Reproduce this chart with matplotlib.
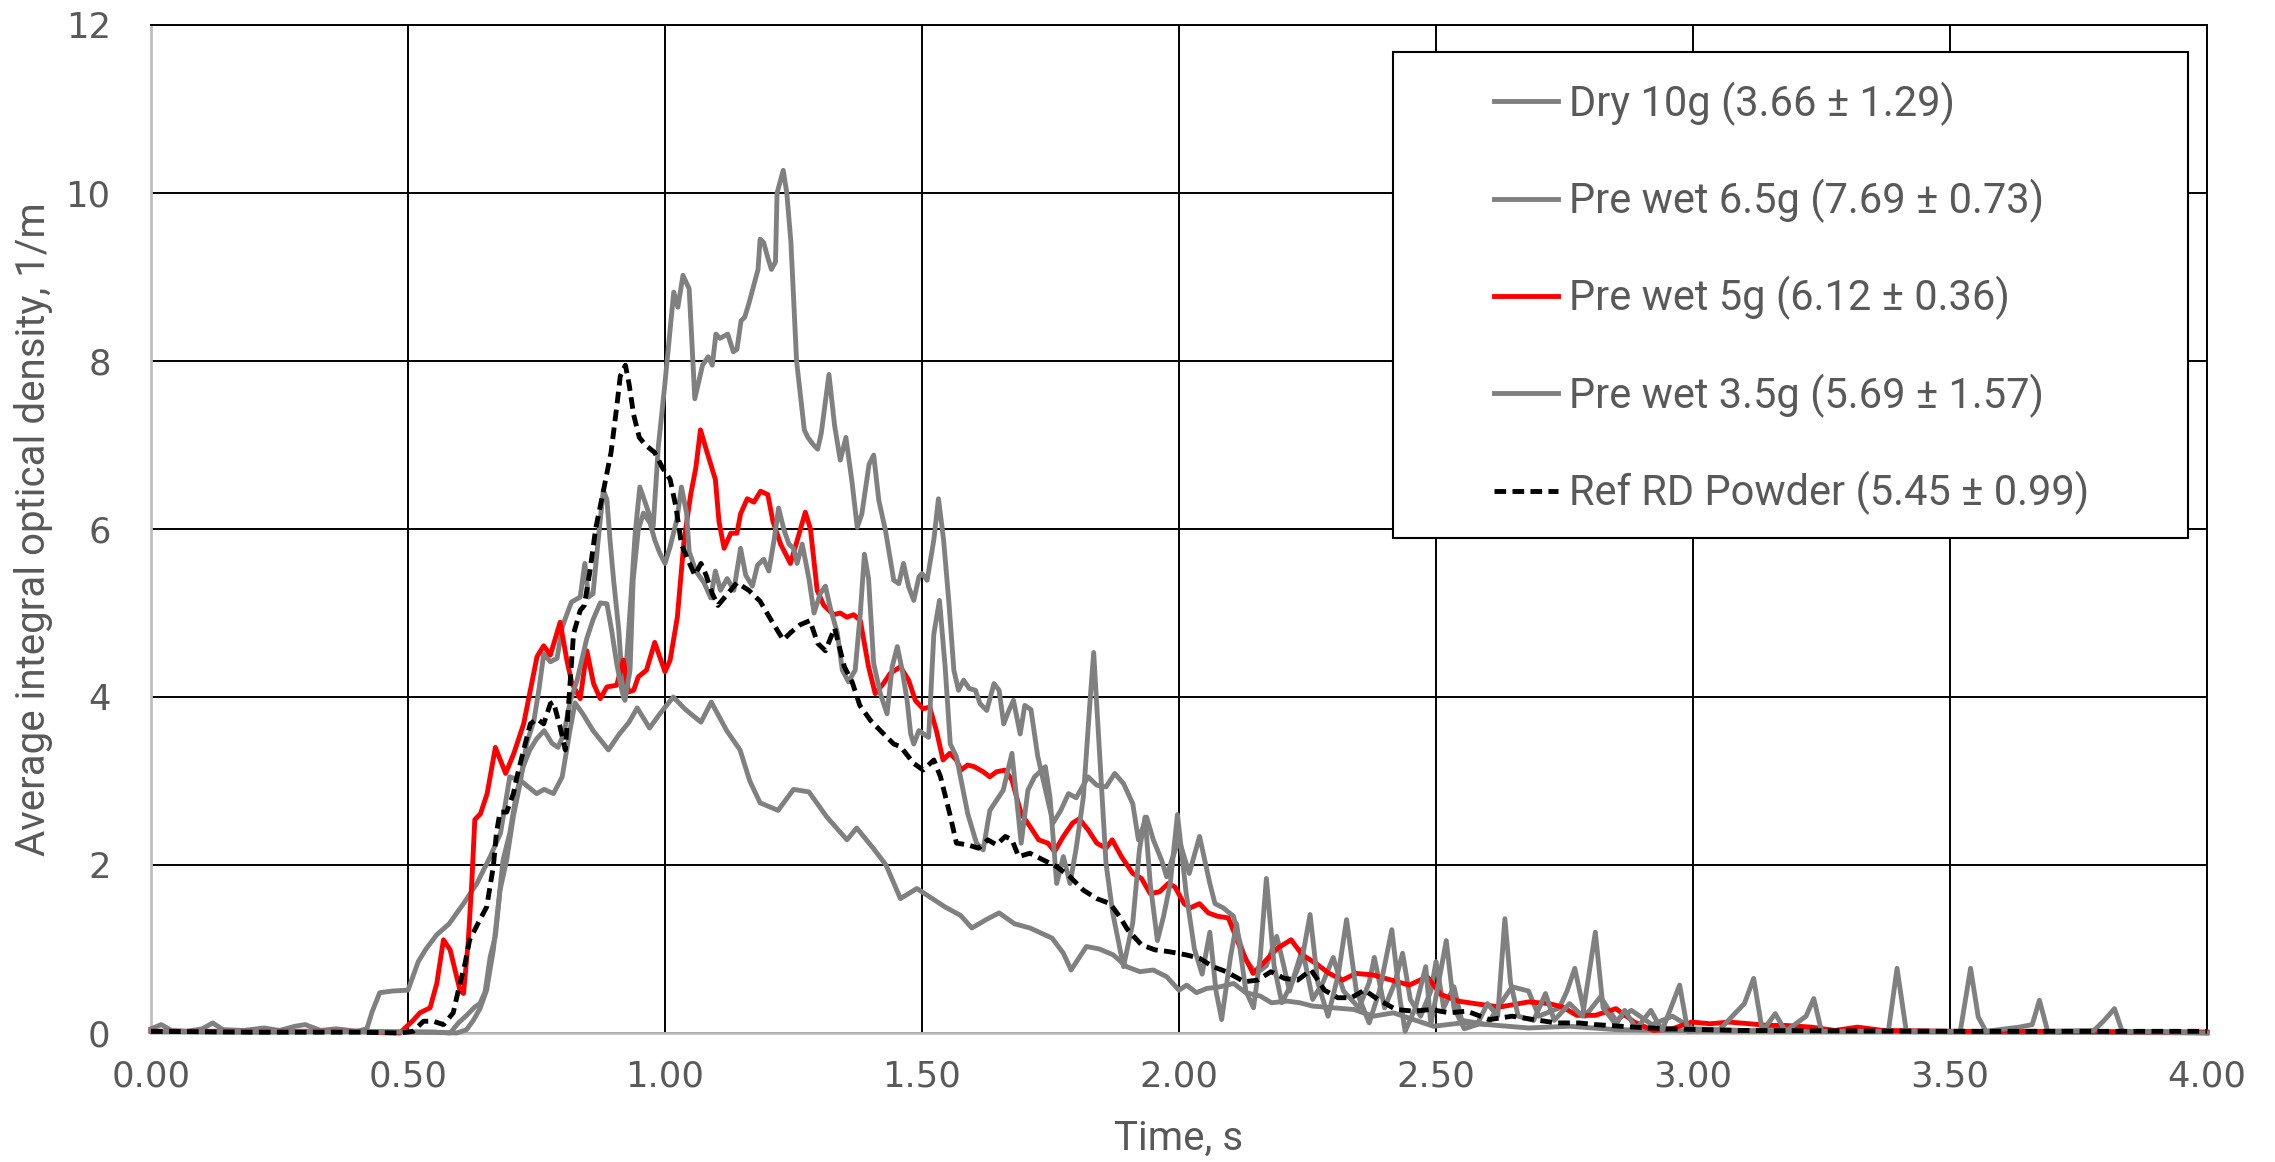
import matplotlib
matplotlib.use("Agg")
import matplotlib.pyplot as plt
from matplotlib.patches import Rectangle

# ---------------- data ----------------
t_dry = [0.00,0.02,0.04,0.07,0.10,0.12,0.14,0.18,0.22,0.25,0.28,0.30,0.33,0.36,0.40,0.42,0.43,0.445,0.47,0.50,
         0.52,0.535,0.556,0.58,0.608,0.634,0.66,0.68,0.698,0.72,0.75,0.765,0.783,0.80,0.815,0.825,0.84,0.86,0.89,0.91,
         0.93,0.946,0.97,0.99,1.016,1.04,1.07,1.09,1.12,1.146,1.165,1.185,1.22,1.25,1.28,1.315,1.354,1.373,1.405,1.43,
         1.458,1.49,1.52,1.545,1.575,1.597,1.625,1.65,1.68,1.71,1.735,1.753,1.775,1.79,1.82,1.845,1.872,1.898,1.924,1.95,
         1.976,2.0,2.015,2.034,2.054,2.08,2.106,2.13,2.158,2.18,2.21,2.235,2.26,2.3,2.34,2.378,2.417,2.456,2.495,2.55,
         2.6,2.68,2.76,2.85,2.95,3.1,3.3,3.6,4.0]
v_dry = [0.05,0.10,0.03,0.02,0.05,0.12,0.04,0.03,0.06,0.03,0.08,0.10,0.03,0.05,0.02,0.05,0.25,0.48,0.50,0.51,
         0.85,1.00,1.17,1.30,1.54,1.78,2.10,2.38,3.05,3.00,2.85,2.90,2.85,3.05,3.60,3.93,3.80,3.60,3.37,3.55,
         3.70,3.87,3.63,3.80,4.00,3.85,3.70,3.94,3.60,3.37,3.00,2.74,2.65,2.90,2.87,2.57,2.30,2.44,2.20,2.00,
         1.60,1.72,1.60,1.50,1.40,1.25,1.35,1.43,1.30,1.25,1.18,1.13,0.95,0.75,1.03,1.00,0.93,0.79,0.73,0.75,
         0.67,0.51,0.57,0.48,0.53,0.55,0.59,0.48,0.44,0.36,0.38,0.36,0.32,0.30,0.28,0.20,0.24,0.16,0.08,0.12,
         0.10,0.06,0.08,0.04,0.03,0.02,0.02,0.01,0.01]

t_w65 = [0.00,0.20,0.40,0.55,0.582,0.598,0.614,0.63,0.64,0.65,0.66,0.67,0.679,0.692,0.705,0.718,0.731,0.745,0.755,0.764,
         0.777,0.79,0.80,0.81,0.818,0.835,0.844,0.851,0.86,0.87,0.88,0.887,0.893,0.90,0.91,0.919,0.925,0.935,0.942,0.951,
         0.964,0.977,0.987,0.999,1.017,1.025,1.035,1.047,1.058,1.073,1.084,1.092,1.099,1.107,1.122,1.133,1.14,1.148,1.155,1.163,
         1.174,1.181,1.185,1.192,1.20,1.207,1.215,1.218,1.23,1.237,1.245,1.256,1.271,1.278,1.289,1.297,1.304,1.319,1.33,1.341,
         1.352,1.364,1.374,1.383,1.397,1.406,1.416,1.429,1.445,1.455,1.464,1.474,1.484,1.494,1.50,1.51,1.523,1.532,1.542,1.552,
         1.562,1.571,1.581,1.592,1.604,1.613,1.626,1.64,1.65,1.659,1.669,1.678,1.691,1.70,1.712,1.725,1.74,1.755,1.77,1.785,
         1.80,1.823,1.84,1.858,1.875,1.892,1.91,1.921,1.937,1.95,1.966,1.976,1.986,2.00,2.02,2.04,2.06,2.07,2.086,2.106,
         2.119,2.13,2.15,2.17,2.19,2.20,2.215,2.23,2.24,2.26,2.28,2.30,2.32,2.35,2.37,2.38,2.40,2.42,2.435,2.45,
         2.47,2.49,2.50,2.515,2.535,2.55,2.60,2.62,2.648,2.68,2.70,2.74,2.755,2.77,2.79,2.82,2.85,2.88,2.92,2.96,
         3.00,3.10,3.50,4.00]
v_w65 = [0.02,0.01,0.02,0.01,0.00,0.12,0.21,0.31,0.35,0.49,0.91,1.15,1.70,2.06,2.58,2.97,3.45,3.72,4.10,4.51,
         4.42,4.46,4.83,5.00,5.13,5.19,5.59,5.19,5.23,5.87,6.46,6.35,5.87,5.39,4.80,4.00,4.40,5.30,5.95,6.50,
         6.27,6.03,6.98,7.68,8.82,8.64,9.02,8.86,7.55,7.95,8.05,7.95,8.32,8.27,8.32,8.11,8.14,8.48,8.52,8.68,
         8.93,9.09,9.45,9.41,9.23,9.09,9.18,10.00,10.27,10.00,9.41,8.00,7.18,7.09,7.00,6.95,7.14,7.84,7.23,6.82,
         7.09,6.55,6.02,6.18,6.77,6.88,6.34,5.98,5.39,5.35,5.59,5.31,5.15,5.43,5.47,5.39,5.87,6.36,5.87,5.15,
         4.32,4.08,4.20,4.10,4.08,3.92,3.84,4.16,4.08,3.68,3.84,3.96,3.56,3.90,3.85,3.30,2.90,2.50,2.65,2.85,
         2.80,3.05,2.95,2.93,3.09,2.97,2.73,2.30,2.57,2.30,2.06,1.86,2.06,2.30,1.90,2.34,1.78,1.54,1.49,1.39,
         1.07,0.87,0.71,0.80,1.15,0.90,0.50,0.80,1.00,0.40,0.60,0.90,0.50,0.30,0.60,0.90,0.30,0.60,0.95,0.40,
         0.20,0.50,0.85,0.30,0.55,0.15,0.10,0.30,0.55,0.50,0.20,0.30,0.50,0.77,0.20,0.43,0.15,0.27,0.10,0.20,
         0.05,0.03,0.02,0.00]

t_w5 = [0.00,0.20,0.40,0.484,0.51,0.523,0.543,0.556,0.569,0.582,0.601,0.608,0.617,0.624,0.63,0.641,0.654,0.67,0.69,0.706,
        0.725,0.738,0.751,0.764,0.777,0.796,0.809,0.819,0.835,0.848,0.861,0.874,0.887,0.906,0.919,0.929,0.939,0.948,0.964,0.98,
        1.00,1.01,1.024,1.037,1.05,1.06,1.069,1.082,1.098,1.105,1.115,1.128,1.14,1.147,1.16,1.173,1.186,1.20,1.21,1.225,
        1.244,1.257,1.273,1.283,1.296,1.309,1.328,1.341,1.354,1.367,1.38,1.396,1.409,1.425,1.438,1.458,1.474,1.487,1.502,1.515,
        1.528,1.541,1.554,1.567,1.576,1.589,1.602,1.619,1.632,1.645,1.662,1.675,1.693,1.71,1.727,1.745,1.758,1.775,1.793,1.806,
        1.823,1.84,1.858,1.87,1.888,1.91,1.927,1.944,1.962,1.979,1.992,2.01,2.022,2.04,2.057,2.075,2.096,2.118,2.144,2.17,
        2.192,2.218,2.24,2.266,2.292,2.318,2.344,2.378,2.413,2.448,2.483,2.509,2.543,2.587,2.625,2.68,2.72,2.746,2.774,2.81,
        2.85,2.886,2.923,2.96,2.997,3.034,3.07,3.11,3.146,3.18,3.23,3.276,3.32,3.37,3.50,3.70,4.00]
v_w5 = [0.02,0.02,0.02,0.00,0.15,0.24,0.30,0.59,1.11,0.99,0.51,0.47,1.07,1.78,2.54,2.61,2.85,3.40,3.09,3.33,
        3.68,4.08,4.48,4.61,4.50,4.89,4.44,4.16,3.98,4.55,4.16,3.98,4.12,4.14,4.44,4.06,4.08,4.24,4.32,4.65,
        4.30,4.44,4.95,5.86,6.41,6.73,7.18,6.91,6.59,6.09,5.77,5.95,5.95,6.18,6.36,6.32,6.45,6.41,6.09,5.82,
        5.59,5.86,6.20,6.00,5.27,5.09,4.98,5.00,4.95,4.98,4.91,4.36,4.04,4.16,4.28,4.36,4.20,3.96,3.86,3.88,
        3.60,3.25,3.33,3.25,3.13,3.19,3.17,3.11,3.05,3.11,3.13,3.01,2.61,2.46,2.30,2.26,2.16,2.34,2.50,2.55,
        2.42,2.26,2.20,2.30,2.10,1.90,1.84,1.66,1.68,1.78,1.74,1.54,1.49,1.54,1.43,1.39,1.37,1.03,0.71,0.87,
        1.01,1.11,0.93,0.83,0.71,0.63,0.71,0.69,0.63,0.57,0.67,0.46,0.38,0.34,0.31,0.37,0.35,0.31,0.21,0.21,
        0.29,0.13,0.03,0.05,0.13,0.11,0.13,0.11,0.09,0.09,0.07,0.03,0.07,0.03,0.02,0.02,0.01]

t_w35 = [0.00,0.30,0.55,0.595,0.614,0.627,0.64,0.653,0.666,0.676,0.685,0.698,0.711,0.724,0.737,0.75,0.765,0.78,0.792,0.803,
         0.816,0.829,0.835,0.848,0.86,0.874,0.887,0.896,0.906,0.916,0.922,0.932,0.938,0.948,0.958,0.971,0.98,0.99,1.00,1.01,
         1.023,1.032,1.042,1.047,1.06,1.076,1.089,1.098,1.108,1.121,1.134,1.147,1.157,1.17,1.18,1.192,1.202,1.212,1.221,1.231,
         1.241,1.25,1.257,1.267,1.28,1.29,1.302,1.312,1.322,1.335,1.345,1.357,1.37,1.38,1.388,1.396,1.406,1.419,1.432,1.442,
         1.452,1.462,1.471,1.478,1.484,1.494,1.503,1.513,1.523,1.534,1.545,1.555,1.567,1.589,1.606,1.619,1.632,1.645,1.658,1.675,
         1.693,1.706,1.719,1.74,1.749,1.762,1.775,1.788,1.80,1.814,1.827,1.834,1.845,1.858,1.871,1.892,1.91,1.923,1.934,1.944,
         1.958,1.97,1.983,1.997,2.014,2.03,2.045,2.06,2.072,2.083,2.10,2.112,2.13,2.145,2.158,2.17,2.185,2.20,2.22,2.24,
         2.255,2.27,2.29,2.31,2.326,2.345,2.37,2.39,2.414,2.43,2.44,2.46,2.48,2.49,2.505,2.52,2.535,2.555,2.58,2.60,
         2.62,2.634,2.645,2.66,2.69,2.713,2.73,2.76,2.785,2.81,2.825,2.85,2.867,2.89,2.918,2.94,2.974,2.99,3.05,3.10,
         3.118,3.135,3.16,3.18,3.22,3.235,3.25,3.38,3.397,3.415,3.52,3.54,3.555,3.57,3.635,3.66,3.674,3.69,3.78,3.80,
         3.82,3.835,4.00]
v_w35 = [0.02,0.02,0.01,0.00,0.04,0.15,0.29,0.51,0.99,1.54,2.06,2.38,2.85,3.17,3.37,3.50,3.60,3.45,3.40,3.56,
         3.96,4.20,4.36,4.70,4.92,5.12,5.11,4.80,4.40,4.08,3.96,4.32,5.39,5.99,6.19,6.07,5.87,5.71,5.59,5.79,
         6.11,6.50,6.19,5.73,5.50,5.36,5.18,5.50,5.27,5.41,5.27,5.77,5.45,5.32,5.57,5.64,5.50,5.86,6.25,6.00,
         5.82,5.77,5.59,5.82,5.41,5.00,5.23,5.32,5.05,4.77,4.32,4.18,4.32,5.00,5.70,5.41,4.40,4.04,3.80,4.36,
         4.60,4.30,3.96,3.56,3.44,3.60,3.56,3.52,4.75,5.15,4.36,3.44,3.29,2.61,2.26,2.18,2.65,2.77,2.89,3.33,
         2.26,2.89,3.05,3.17,2.81,1.78,2.10,1.78,2.20,2.81,3.96,4.53,3.37,2.02,1.43,0.79,1.31,2.18,2.57,1.78,
         1.10,1.39,1.78,2.60,1.66,1.00,0.70,1.20,0.50,0.16,0.90,1.30,0.50,0.30,0.90,1.84,0.80,0.36,0.60,0.90,
         1.41,0.60,0.20,0.70,1.35,0.50,0.12,0.50,1.23,0.40,0.02,0.30,0.79,0.10,0.60,1.10,0.30,0.05,0.10,0.35,
         0.20,1.36,0.60,0.20,0.15,0.47,0.15,0.35,0.20,1.20,0.30,0.10,0.27,0.05,0.27,0.03,0.57,0.02,0.03,0.35,
         0.65,0.02,0.23,0.02,0.20,0.41,0.02,0.02,0.77,0.02,0.02,0.77,0.19,0.02,0.07,0.10,0.39,0.02,0.03,0.15,
         0.29,0.02,0.00]

t_ref = [0.00,0.20,0.40,0.484,0.51,0.53,0.549,0.569,0.588,0.598,0.611,0.62,0.64,0.653,0.666,0.672,0.679,0.692,0.705,0.712,
         0.725,0.738,0.751,0.764,0.777,0.783,0.796,0.806,0.813,0.822,0.835,0.843,0.854,0.865,0.88,0.895,0.906,0.913,0.923,0.93,
         0.939,0.95,0.962,0.98,0.995,1.01,1.021,1.032,1.044,1.058,1.07,1.08,1.092,1.103,1.122,1.14,1.163,1.185,1.207,1.23,
         1.245,1.263,1.282,1.297,1.312,1.33,1.349,1.364,1.379,1.40,1.419,1.445,1.458,1.484,1.502,1.523,1.536,1.554,1.567,1.589,
         1.61,1.628,1.645,1.662,1.675,1.688,1.71,1.736,1.762,1.788,1.814,1.84,1.866,1.884,1.90,1.927,1.953,1.979,2.014,2.04,
         2.066,2.092,2.127,2.153,2.179,2.205,2.231,2.257,2.283,2.309,2.335,2.361,2.387,2.422,2.457,2.49,2.526,2.56,2.604,2.648,
         2.69,2.734,2.778,2.81,2.886,2.95,3.09,3.50,4.00]
v_ref = [0.02,0.01,0.01,0.00,0.02,0.14,0.14,0.10,0.24,0.51,0.83,1.11,1.35,1.50,1.98,2.38,2.63,2.63,2.85,3.05,
         3.37,3.68,3.74,3.68,3.92,3.94,3.64,3.37,3.96,4.75,5.03,5.09,5.50,6.00,6.45,6.91,7.45,7.82,7.95,7.73,
         7.36,7.09,7.00,6.91,6.73,6.59,6.27,5.82,5.64,5.45,5.59,5.45,5.23,5.09,5.23,5.36,5.27,5.14,4.91,4.68,
         4.77,4.86,4.91,4.64,4.55,4.82,4.36,4.18,3.90,3.72,3.60,3.44,3.41,3.21,3.13,3.25,3.05,2.61,2.26,2.24,
         2.20,2.30,2.24,2.34,2.30,2.10,2.14,2.06,1.98,1.86,1.70,1.60,1.54,1.39,1.23,1.05,0.99,0.97,0.93,0.89,
         0.79,0.73,0.61,0.63,0.73,0.65,0.63,0.75,0.51,0.42,0.42,0.51,0.40,0.28,0.26,0.28,0.24,0.26,0.16,0.20,
         0.16,0.12,0.12,0.10,0.07,0.05,0.03,0.02,0.02]

labels = ["Dry 10g (3.66 \u00b1 1.29)", "Pre wet 6.5g (7.69 \u00b1 0.73)", "Pre wet 5g (6.12 \u00b1 0.36)",
          "Pre wet 3.5g (5.69 \u00b1 1.57)", "Ref RD Powder (5.45 \u00b1 0.99)"]
x_ticks = [0.0, 0.5, 1.0, 1.5, 2.0, 2.5, 3.0, 3.5, 4.0]
x_ticklabels = ["0.00", "0.50", "1.00", "1.50", "2.00", "2.50", "3.00", "3.50", "4.00"]
y_ticks = [0, 2, 4, 6, 8, 10, 12]

# ---------------- styling ----------------
GRAY = "#808080"
TXT = "#595959"
NARROW = ["Roboto", "DejaVu Sans"]

fig = plt.figure(figsize=(22.75, 11.62), dpi=100)
ax = fig.add_axes([151/2275, 1 - 1033/1162, (2207-151)/2275, (1033-25)/1162])

lw = 3.5
series = [
    (t_dry, v_dry, dict(color=GRAY, lw=lw)),
    (t_w65, v_w65, dict(color=GRAY, lw=lw)),
    (t_w5, v_w5, dict(color="#ff0000", lw=lw)),
    (t_w35, v_w35, dict(color=GRAY, lw=lw)),
    (t_ref, v_ref, dict(color="black", lw=lw, linestyle=(0, (2.4, 1.3)))),
]
handles = []
for (t, v, st), lab in zip(series, labels):
    h, = ax.plot(t, v, label=lab, zorder=3, clip_on=False,
                 solid_joinstyle="round", dash_joinstyle="round", **st)
    handles.append(h)

ax.set_xlim(0, 4)
ax.set_ylim(0, 12)
ax.set_xticks(x_ticks)
ax.set_xticklabels(x_ticklabels)
ax.set_yticks(y_ticks)
ax.tick_params(axis="both", length=0, labelsize=25.5, labelcolor=TXT)
ax.tick_params(axis="y", pad=29)
ax.tick_params(axis="x", pad=19)

ax.set_axisbelow(True)
ax.grid(True, color="black", lw=1.4)
for s in ("left", "bottom"):
    ax.spines[s].set_color("#bfbfbf")
    ax.spines[s].set_linewidth(2.0)
for s in ("top", "right"):
    ax.spines[s].set_color("black")
    ax.spines[s].set_linewidth(1.4)

ax.set_xlabel("Time, s", fontsize=29, color=TXT, family=NARROW)
ax.set_ylabel("Average integral optical density, 1/m", fontsize=29, color=TXT, family=NARROW)
ax.xaxis.set_label_coords(0.5, -0.085)
ax.yaxis.set_label_coords(-0.0477, 0.5)

# legend frame and entries
frame = Rectangle((0.604, 0.491), 0.991 - 0.604, 0.973 - 0.491, transform=ax.transAxes,
                  facecolor="white", edgecolor="black", lw=1.5, zorder=4.5)
ax.add_patch(frame)
leg = ax.legend(handles=handles, loc="upper left", bbox_to_anchor=(0.653, 0.944),
                frameon=False, borderpad=0, borderaxespad=0, handlelength=1.55,
                handletextpad=0.25, labelspacing=1.28,
                prop=dict(family=NARROW, size=30))
leg.set_zorder(5)
for txt in leg.get_texts():
    txt.set_color(TXT)

fig.savefig("out.png", dpi=100)
